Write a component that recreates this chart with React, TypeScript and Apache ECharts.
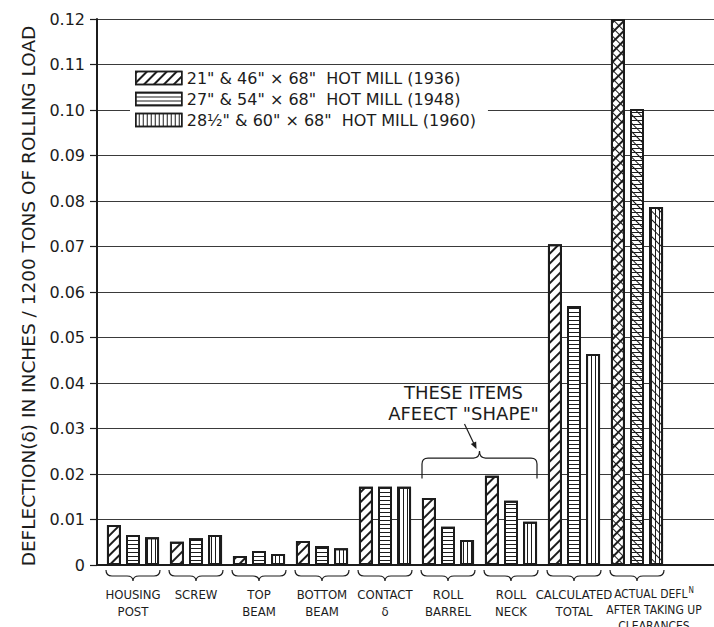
import React, { useEffect, useRef } from 'react';
import * as echarts from 'echarts';

const categories = [
  'HOUSING\nPOST',
  'SCREW',
  'TOP\nBEAM',
  'BOTTOM\nBEAM',
  'CONTACT\nδ',
  'ROLL\nBARREL',
  'ROLL\nNECK',
  'CALCULATED\nTOTAL',
  'ACTUAL DEFLᴺ\nAFTER TAKING UP\nCLEARANCES',
];

const seriesNames = [
  '21" & 46" × 68"  HOT MILL (1936)',
  '27" & 54" × 68"  HOT MILL (1948)',
  '28½" & 60" × 68"  HOT MILL (1960)',
];

const mill1936 = [0.0088, 0.0051, 0.002, 0.0053, 0.0172, 0.0147, 0.0196, 0.0705, 0.12];
const mill1948 = [0.0066, 0.0059, 0.0031, 0.0042, 0.0172, 0.0084, 0.0141, 0.0569, 0.1002];
const mill1960 = [0.0061, 0.0066, 0.0024, 0.0037, 0.0172, 0.0055, 0.0095, 0.0464, 0.0787];

const yMin = 0;
const yMax = 0.12;
const yStep = 0.01;

const yTitle = 'DEFLECTION(δ) IN INCHES / 1200 TONS OF ROLLING LOAD';

const noteLines = ['THESE ITEMS', 'AFEECT "SHAPE"'];
const noteSpan = [5, 6];
const noteBraceLevel = 0.0235;
const noteBraceEnd = 0.019;

const INK = '#1c1c1c';

const decals = [
  { symbol: 'rect', symbolSize: 1, dashArrayX: [1, 0], dashArrayY: [1.2, 4.5], rotation: -Math.PI / 4, color: INK },
  { symbol: 'rect', symbolSize: 1, dashArrayX: [1, 0], dashArrayY: [1, 2.6], rotation: 0, color: INK },
  { symbol: 'rect', symbolSize: 1, dashArrayX: [1, 0], dashArrayY: [1, 2.6], rotation: Math.PI / 2, color: INK },
];
const overlayDecal = { symbol: 'rect', symbolSize: 1, dashArrayX: [1, 0], dashArrayY: [1, 4.5], rotation: Math.PI / 4, color: INK };

export default function App() {
  const ref = useRef<HTMLDivElement>(null);

  useEffect(() => {
    const chart = echarts.init(ref.current!, null, { renderer: 'svg' });
    const values = [mill1936, mill1948, mill1960];
    const last = categories.length - 1;
    const barWidth = 14;
    const barGap = '36%';

    const barSeries = values.map((vals, i) => ({
      name: seriesNames[i],
      type: 'bar',
      xAxisIndex: 1,
      yAxisIndex: 1,
      barWidth,
      barGap,
      data: vals,
      z: 3,
      itemStyle: { color: '#fff', borderColor: INK, borderWidth: 2, decal: decals[i] },
    }));

    const overlaySeries = values.map((vals, i) => ({
      name: 'overlay' + i,
      type: 'bar',
      xAxisIndex: 2,
      yAxisIndex: 1,
      barWidth,
      barGap,
      silent: true,
      z: 4,
      data: vals.map((v, j) => (j === last ? v : '-')),
      itemStyle: { color: 'rgba(0,0,0,0)', borderWidth: 0, decal: overlayDecal },
    }));

    const braceSeries = {
      type: 'custom',
      xAxisIndex: 1,
      yAxisIndex: 1,
      clip: false,
      silent: true,
      data: categories.map((_, i) => [i, 0]),
      renderItem: (params: any, api: any) => {
        const p = api.coord([api.value(0), 0]);
        const cx = p[0];
        const cy = p[1];
        const hw = 27;
        const y0 = cy + 5;
        const y1 = cy + 11;
        const ym = cy + 16;
        const d = `M${cx - hw} ${y0} Q${cx - hw} ${y1} ${cx - hw + 6} ${y1} L${cx - 6} ${y1} Q${cx} ${y1} ${cx} ${ym} Q${cx} ${y1} ${cx + 6} ${y1} L${cx + hw - 6} ${y1} Q${cx + hw} ${y1} ${cx + hw} ${y0}`;
        return { type: 'path', shape: { pathData: d }, style: { fill: 'none', stroke: INK, lineWidth: 1.2 } };
      },
    };

    const noteSeries = {
      type: 'custom',
      xAxisIndex: 1,
      yAxisIndex: 1,
      clip: false,
      silent: true,
      z: 5,
      data: [[noteSpan[0], noteBraceLevel]],
      renderItem: (params: any, api: any) => {
        const a = api.coord([noteSpan[0], noteBraceLevel]);
        const b = api.coord([noteSpan[1], noteBraceLevel]);
        const e = api.coord([noteSpan[0], noteBraceEnd]);
        const hw = 26;
        const xl = a[0] - hw;
        const xr = b[0] + hw;
        const cx = (xl + xr) / 2;
        const yT = a[1];
        const yE = e[1];
        const yP = yT - 7;
        const d = `M${xl} ${yE} L${xl} ${yT + 6} Q${xl} ${yT} ${xl + 6} ${yT} L${cx - 6} ${yT} Q${cx} ${yT} ${cx} ${yP} Q${cx} ${yT} ${cx + 6} ${yT} L${xr - 6} ${yT} Q${xr} ${yT} ${xr} ${yT + 6} L${xr} ${yE}`;
        const ax0 = cx - 15;
        const ay0 = yT - 34;
        const ax1 = cx - 3;
        const ay1 = yP - 2;
        const len = Math.hypot(ax1 - ax0, ay1 - ay0);
        const ux = (ax1 - ax0) / len;
        const uy = (ay1 - ay0) / len;
        const hl = 7;
        const hwid = 3;
        const head = [
          [ax1, ay1],
          [ax1 - ux * hl - uy * hwid, ay1 - uy * hl + ux * hwid],
          [ax1 - ux * hl + uy * hwid, ay1 - uy * hl - ux * hwid],
        ];
        const textStyle = (t: string, y: number) => ({
          type: 'text',
          x: cx - 16,
          y,
          style: {
            text: t,
            fontSize: 18,
            fontFamily: 'DejaVu Sans',
            fill: INK,
            align: 'center',
            verticalAlign: 'middle',
          },
        });
        return {
          type: 'group',
          children: [
            { type: 'path', shape: { pathData: d }, style: { fill: 'none', stroke: INK, lineWidth: 1.2 } },
            { type: 'line', shape: { x1: ax0, y1: ay0, x2: ax1 - ux * 4, y2: ay1 - uy * 4 }, style: { stroke: INK, lineWidth: 1.2 } },
            { type: 'polygon', shape: { points: head }, style: { fill: INK } },
            textStyle(noteLines[0], yT - 66),
            textStyle(noteLines[1], yT - 45),
          ],
        };
      },
    };

    const labelFont = 'DejaVu Sans Condensed';

    const option: any = {
      animation: false,
      backgroundColor: '#fff',
      textStyle: { fontFamily: 'DejaVu Sans' },
      grid: [
        { left: 97, right: 0, top: 19, bottom: 62, outerBoundsMode: 'none' },
        { left: 101.5, right: 45.5, top: 19, bottom: 62, outerBoundsMode: 'none' },
      ],
      legend: {
        data: seriesNames,
        orient: 'vertical',
        left: 130,
        top: 67,
        itemWidth: 46,
        itemHeight: 13,
        itemGap: 5,
        icon: 'rect',
        backgroundColor: '#fff',
        padding: [3, 12, 3, 5],
        textStyle: { fontSize: 16, color: INK, fontFamily: 'DejaVu Sans' },
        itemStyle: { borderColor: INK, borderWidth: 1.5 },
      },
      xAxis: [
        {
          type: 'value',
          gridIndex: 0,
          min: 0,
          max: 1,
          axisLine: { show: true, lineStyle: { color: INK, width: 2 } },
          axisTick: { show: false },
          axisLabel: { show: false },
          splitLine: { show: false },
        },
        {
          type: 'category',
          gridIndex: 1,
          data: categories,
          axisLine: { show: false },
          axisTick: { show: false },
          axisLabel: {
            interval: 0,
            margin: 21,
            fontSize: 13,
            lineHeight: 17,
            color: INK,
            fontFamily: labelFont,
            hideOverlap: false,
            formatter: (v: string) => {
              if (v.indexOf('ᴺ') >= 0) {
                return v
                  .split('\n')
                  .map((line) => {
                    const parts = line.split('ᴺ');
                    return parts.length > 1
                      ? `{act|${parts[0]}}{sup|N}{actEnd|}`
                      : `{act|${line}}{actEnd|}`;
                  })
                  .join('\n');
              }
              return v;
            },
            rich: {
              act: { fontSize: 12, lineHeight: 16, color: INK, fontFamily: labelFont, padding: [0, 0, 0, 34] },
              actEnd: { fontSize: 12, lineHeight: 16, color: INK, fontFamily: labelFont },
              sup: { fontSize: 8, verticalAlign: 'top', lineHeight: 16, color: INK, fontFamily: labelFont, padding: [0, 0, 6, 1] },
            },
          },
        },
        {
          type: 'category',
          gridIndex: 1,
          data: categories,
          show: false,
        },
      ],
      yAxis: [
        {
          type: 'value',
          gridIndex: 0,
          min: yMin,
          max: yMax,
          interval: yStep,
          axisLine: { show: true, lineStyle: { color: INK, width: 2 } },
          axisTick: { show: true, length: 7, lineStyle: { color: INK, width: 1.2 } },
          axisLabel: {
            fontSize: 16,
            color: INK,
            margin: 12,
            fontFamily: 'DejaVu Sans',
            formatter: (v: number) => (Math.abs(v) < 1e-9 ? '0' : v.toFixed(2)),
          },
          splitLine: { show: true, lineStyle: { color: '#3a3a3a', width: 1 } },
        },
        {
          type: 'value',
          gridIndex: 1,
          min: yMin,
          max: yMax,
          interval: yStep,
          show: false,
          splitLine: { show: false },
        },
      ],
      graphic: [
        {
          type: 'text',
          x: 28,
          y: 296,
          rotation: Math.PI / 2,
          style: {
            text: yTitle,
            fontSize: 18.5,
            fontFamily: 'DejaVu Sans',
            fill: INK,
            align: 'center',
            verticalAlign: 'middle',
          },
        },
      ],
      series: [...barSeries, ...overlaySeries, braceSeries, noteSeries],
    };

    chart.setOption(option);
    return () => chart.dispose();
  }, []);

  return <div ref={ref} style={{ width: 714, height: 627, position: 'absolute', left: 0, top: 0 }} />;
}
